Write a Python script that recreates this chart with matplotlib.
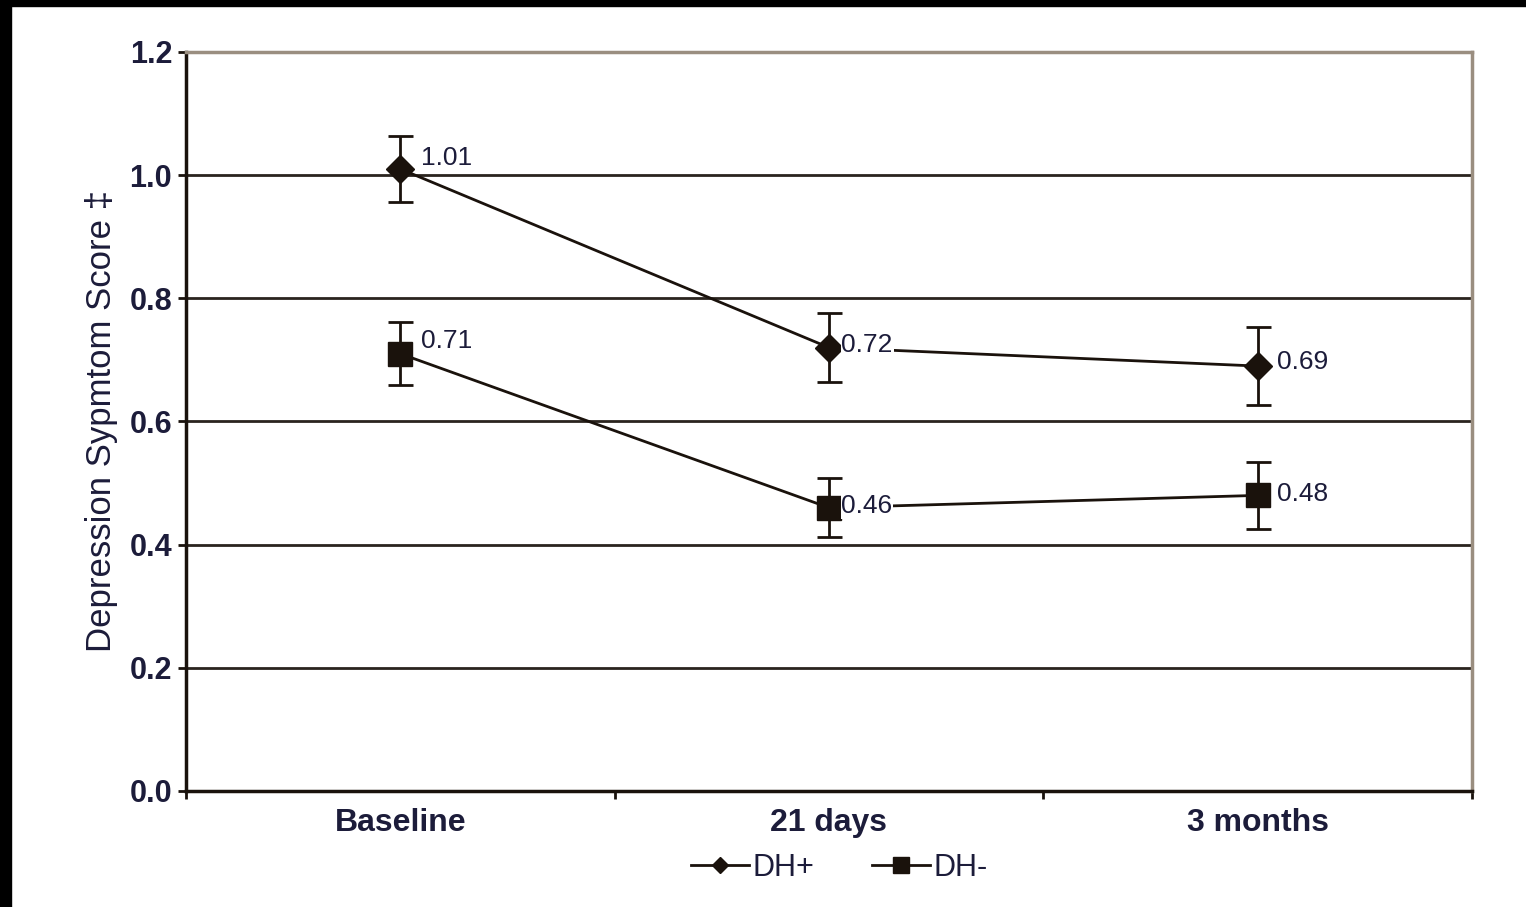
import matplotlib.pyplot as plt
from matplotlib.patches import Rectangle
from matplotlib.lines import Line2D

plt.rcParams['font.family'] = ['Liberation Sans', 'DejaVu Sans']

categories = ['Baseline', '21 days', '3 months']
dh_plus = [1.01, 0.72, 0.69]
dh_plus_err = [0.053, 0.056, 0.063]
dh_minus = [0.71, 0.46, 0.48]
dh_minus_err = [0.051, 0.048, 0.055]
yticks = [0.0, 0.2, 0.4, 0.6, 0.8, 1.0, 1.2]

INK = '#1a120c'
TXT = '#1c1c3a'

fig = plt.figure(figsize=(15.26, 9.07), dpi=100)
ax = fig.add_axes([0.1219, 0.1279, 0.8427, 0.8148])

x = list(range(len(categories)))

# gridlines
for yv in yticks[1:-1]:
    ax.axhline(yv, color='#2a241e', lw=2, zorder=1)

ax.errorbar(x, dh_plus, yerr=dh_plus_err, color=INK, lw=2, marker='D',
            markersize=14, capsize=9, capthick=2, elinewidth=2, zorder=3)
ax.errorbar(x, dh_minus, yerr=dh_minus_err, color=INK, lw=2, marker='s',
            markersize=17, capsize=9, capthick=2, elinewidth=2, zorder=3)

# value labels
offs_plus = [(15, 8), (9, 2), (14, 3)]
offs_minus = [(15, 9), (9, 1), (14, 1)]
for xi, v, o in zip(x, dh_plus, offs_plus):
    ax.annotate(f'{v:.2f}', (xi, v), xytext=o, textcoords='offset points',
                fontsize=19, color=TXT, va='center', ha='left', zorder=4,
                bbox=dict(facecolor='white', edgecolor='none', pad=0.5))
for xi, v, o in zip(x, dh_minus, offs_minus):
    ax.annotate(f'{v:.2f}', (xi, v), xytext=o, textcoords='offset points',
                fontsize=19, color=TXT, va='center', ha='left', zorder=4,
                bbox=dict(facecolor='white', edgecolor='none', pad=0.5))

ax.set_xlim(-0.5, 2.5)
ax.set_ylim(0, 1.2)
ax.set_yticks(yticks)
ax.set_yticklabels([f'{t:.1f}' for t in yticks], fontsize=22,
                   fontweight='bold', color=TXT)
ax.set_xticks(x)
ax.set_xticklabels(categories, fontsize=23, fontweight='bold', color=TXT)
ax.tick_params(axis='x', length=0, pad=12)
ax.set_xticks([-0.5, 0.5, 1.5, 2.5], minor=True)
ax.tick_params(axis='x', which='minor', length=6, width=2, color=INK)
ax.tick_params(axis='y', length=6, width=2, color=INK, pad=4)

for s in ['left', 'bottom']:
    ax.spines[s].set_color(INK)
    ax.spines[s].set_linewidth(2.5)
for s in ['top', 'right']:
    ax.spines[s].set_color('#9a8e80')
    ax.spines[s].set_linewidth(2.5)

ax.set_ylabel('Depression Sypmtom Score \u2021', fontsize=25, color=TXT,
              labelpad=8)

handles = [
    Line2D([], [], color=INK, lw=2, marker='D', markersize=8),
    Line2D([], [], color=INK, lw=2, marker='s', markersize=12),
]
fig.legend(handles, ['DH+', 'DH-'], loc='center', bbox_to_anchor=(0.55, 0.043),
           ncol=2, frameon=False, fontsize=22, handlelength=1.9,
           handletextpad=0.1, columnspacing=1.9, labelcolor=TXT)

# black scan border
fig.patches.append(Rectangle((0, 1 - 6 / 907), 1, 6 / 907,
                             transform=fig.transFigure, color='black', zorder=10))
fig.patches.append(Rectangle((0, 0), 11 / 1526, 1,
                             transform=fig.transFigure, color='black', zorder=10))

fig.savefig('out.png', dpi=100)
